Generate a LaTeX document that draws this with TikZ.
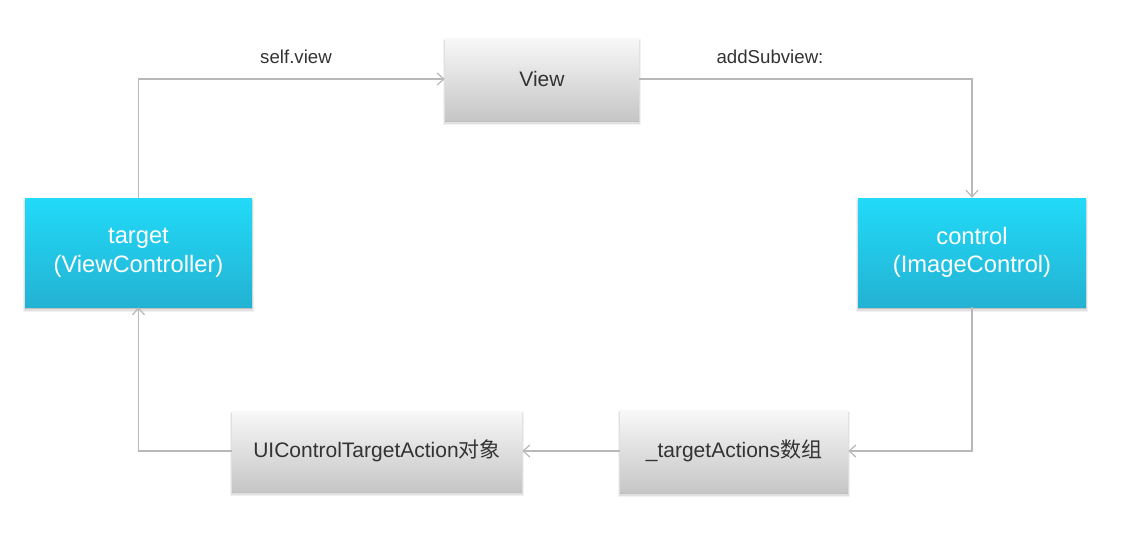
\documentclass[tikz,border=0pt]{standalone}
\usepackage{fontspec}
\setmainfont{Liberation Sans}
\newfontfamily\cjk{Noto Sans CJK SC}
\usetikzlibrary{arrows.meta,shadings}
\definecolor{linegray}{HTML}{B8B8B8}
\definecolor{txtgray}{HTML}{333333}
\definecolor{cyantop}{HTML}{22DAF8}
\definecolor{cyanbot}{HTML}{23B2D3}
\definecolor{graytop}{HTML}{F8F8F8}
\definecolor{graybot}{HTML}{C6C6C6}
\tikzset{
  boxshadow/.style={
    preaction={draw=black, opacity=0.05, line width=3pt, transform canvas={yshift=-2.6pt}},
    preaction={draw=black, opacity=0.07, line width=1.5pt, transform canvas={yshift=-2pt}},
    preaction={fill=black, opacity=0.2, transform canvas={yshift=-1.5pt}}},
  graybox/.style={rectangle, top color=graytop, bottom color=graybot, draw=none,
    boxshadow, text=txtgray, font=\fontsize{15.75}{19}\selectfont, align=center, inner sep=0pt},
  cyanbox/.style={rectangle, top color=cyantop, bottom color=cyanbot, draw=none,
    boxshadow, text=white, font=\fontsize{17.8}{21.5}\selectfont, align=center, inner sep=0pt},
  conn/.style={draw=linegray, line width=1.2pt, -{Straight Barb[length=5pt,width=9pt,line width=0.9pt]}},
  lbl/.style={text=txtgray, font=\fontsize{14}{17}\selectfont, inner sep=0pt}
}
\begin{document}
\begin{tikzpicture}[x=0.75pt,y=-0.75pt]
\useasboundingbox[fill=white] (0,0) rectangle (1122,544);
\node[graybox, minimum width=145.5pt, minimum height=61.5pt] (view) at (542,79) {View};
\node[cyanbox, minimum width=170.25pt, minimum height=81.75pt] (target) at (138.5,252.5) {target\\(ViewController)};
\node[cyanbox, minimum width=171pt, minimum height=81.75pt] (control) at (972,252.5) {control\\(ImageControl)};
\node[graybox, minimum width=217.5pt, minimum height=60pt] (uict) at (377,451) {UIControlTargetAction{\cjk 对象}};
\node[graybox, minimum width=171pt, minimum height=61.5pt] (ta) at (734,451) {\_targetActions{\cjk 数组}};
\coordinate (c1) at (target.north |- view.west);
\coordinate (c2) at (control.north |- view.east);
\coordinate (c3) at (control.south |- ta.east);
\coordinate (c4) at (target.south |- uict.west);
\draw[conn] (target.north) -- (c1) -- (view.west);
\draw[conn] (view.east) -- (c2) -- (control.north);
\draw[conn] (control.south) -- (c3) -- (ta.east);
\draw[conn] (ta.west) -- (uict.east);
\draw[conn] (uict.west) -- (c4) -- (target.south);
\node[lbl] (l1) at (296,57) {self.view};
\node[lbl] (l2) at (770,57) {addSubview:};
\end{tikzpicture}
\end{document}
